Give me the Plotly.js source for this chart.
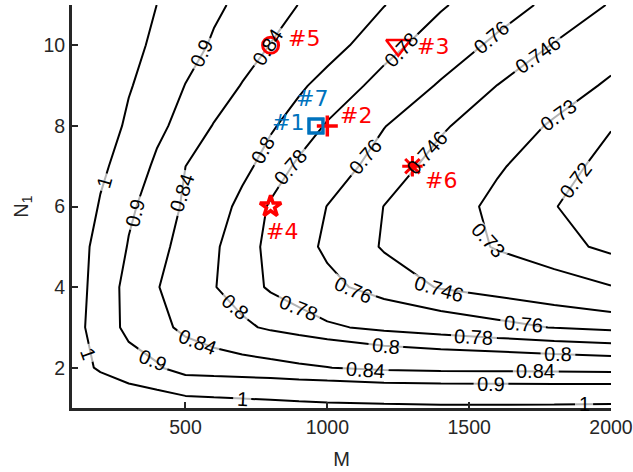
<!DOCTYPE html>
<html>
<head>
<meta charset="utf-8">
<script src="https://cdn.plot.ly/plotly-3.0.1.min.js"></script>
<style>
  html, body { margin: 0; padding: 0; background: #ffffff; }
  #chart { width: 633px; height: 472px; }
</style>
</head>
<body>
<div id="chart"></div>
<script>
// Grid of M (columns) and N1 (rows) on which the response surface is sampled
const mValues = [100, 200, 300, 400, 500, 600, 700, 800, 900, 1000, 1200, 1400, 1600, 1800, 2000];
const n1Values = [1, 2, 3, 4, 5, 6, 7, 8, 9, 10, 11];

// Surface values, one row per N1
const zRows = [
  [1.200, 1.121, 1.095, 1.076, 1.058, 1.050, 1.044, 1.038, 1.031, 1.025, 1.020, 1.015, 1.015, 1.017, 1.020],
  [1.050, 0.985, 0.939, 0.908, 0.865, 0.861, 0.857, 0.852, 0.846, 0.841, 0.829, 0.825, 0.8235, 0.821, 0.818],
  [1.043, 0.950, 0.878, 0.850, 0.8324, 0.8187, 0.8051, 0.7959, 0.7893, 0.7828, 0.7757, 0.7702, 0.7647, 0.7594, 0.7555],
  [1.059, 0.950, 0.875, 0.8417, 0.821, 0.8012, 0.7881, 0.7776, 0.7708, 0.7641, 0.7534, 0.745, 0.7401, 0.7353, 0.7305],
  [1.057, 0.965, 0.8953, 0.8528, 0.8249, 0.8032, 0.7878, 0.7755, 0.7657, 0.7572, 0.7448, 0.7367, 0.729, 0.7234, 0.7178],
  [1.101, 0.990, 0.912, 0.8681, 0.8331, 0.8123, 0.7931, 0.7779, 0.7688, 0.7597, 0.7458, 0.7358, 0.7272, 0.7204, 0.7137],
  [1.160, 1.022, 0.9486, 0.8851, 0.8401, 0.8233, 0.8067, 0.7900, 0.7767, 0.7686, 0.7531, 0.7409, 0.7312, 0.7238, 0.7168],
  [1.200, 1.060, 0.9815, 0.918, 0.8725, 0.8374, 0.8202, 0.8029, 0.7899, 0.7783, 0.7605, 0.7478, 0.7376, 0.7283, 0.7205],
  [1.250, 1.090, 1.008, 0.9525, 0.898, 0.867, 0.8376, 0.8207, 0.8037, 0.7919, 0.7734, 0.7582, 0.7458, 0.7367, 0.7280],
  [1.300, 1.120, 1.030, 0.980, 0.931, 0.8905, 0.864, 0.8387, 0.824, 0.809, 0.7864, 0.770, 0.7563, 0.7452, 0.7360],
  [1.350, 1.160, 1.060, 0.999, 0.956, 0.913, 0.884, 0.861, 0.839, 0.826, 0.8006, 0.782, 0.768, 0.7556, 0.7450]
];

// Contour levels that are drawn
const levels = [0.72, 0.73, 0.746, 0.76, 0.78, 0.8, 0.84, 0.9, 1];

// Inline contour labels: which level, where on the line (M, N1) and the text rotation
const labelLevel = [1, 1, 1, 1,
                    0.9, 0.9, 0.9, 0.9,
                    0.84, 0.84, 0.84, 0.84, 0.84,
                    0.8, 0.8, 0.8, 0.8,
                    0.78, 0.78, 0.78, 0.78,
                    0.76, 0.76, 0.76, 0.76,
                    0.746, 0.746, 0.746,
                    0.73, 0.73,
                    0.72];
const labelM = [215, 158, 700, 1905,
                558, 322, 384, 1577,
                790, 488, 542, 1135, 1735,
                773, 675, 1206, 1813,
                1260, 870, 900, 1517,
                1580, 1133, 1093, 1690,
                1741, 1350, 1395,
                1815, 1567,
                1876];
const labelN1 = [6.6, 2.35, 1.22, 1.09,
                 9.8, 5.84, 2.2, 1.6,
                 9.96, 6.33, 2.63, 1.95, 1.91,
                 7.4, 3.5, 2.53, 2.33,
                 9.88, 6.98, 3.48, 2.77,
                 10.2, 7.23, 3.93, 3.08,
                 9.76, 7.33, 3.95,
                 8.27, 5.17,
                 6.66];
const labelAngle = [-74, 70, 3, 0,
                    -64, -76, 22, 1,
                    -57, -71, 21, 4, 0,
                    -61, 40, 6, 1,
                    -47, -50, 22, 3,
                    -40, -50, 24, 5,
                    -35, -48, 16,
                    -36, 48,
                    -53];

// Design points
const pointNames = ['#1', '#2', '#3', '#4', '#5', '#6', '#7'];
const pointM = [960, 1000, 1250, 800, 800, 1300, 960];
const pointN1 = [8, 8, 10, 6, 10, 7, 8];

// Styling of each design point (symbol, colour, size, stroke) and its label offset in px
const pointStyle = [
  { symbol: 'square-open',        color: '#0072BD', size: 14, width: 3,   ax: 'right', dx: -11, dy: 3 },
  { symbol: 'cross-thin-open',    color: '#FF0000', size: 15, width: 3.5, ax: 'left',  dx: 12,  dy: 10 },
  { symbol: 'triangle-down-open', color: '#FF0000', size: 21, width: 2.5, ax: 'left',  dx: 18,  dy: -1 },
  { symbol: 'star-open',          color: '#FF0000', size: 16, width: 3.5, ax: 'left',  dx: -6,  dy: -25 },
  { symbol: 'circle-open',        color: '#FF0000', size: 16, width: 3,   ax: 'left',  dx: 16,  dy: 7 },
  { symbol: 'asterisk-open',      color: '#FF0000', size: 17, width: 3,   ax: 'left',  dx: 12,  dy: -14 },
  { symbol: 'square-open',        color: '#0072BD', size: 14, width: 3,   ax: 'left',  dx: -21, dy: 27 }
];

const axisColor = '#262626';
const baseFont = 'Liberation Sans, Arial, sans-serif';
const labelFontSize = 20;

// Contour lines, one trace per level
const traces = levels.map(function (lv) {
  return {
    type: 'contour',
    x: mValues,
    y: n1Values,
    z: zRows,
    autocontour: false,
    contours: { start: lv, end: lv, size: 0.001, coloring: 'none', showlabels: false },
    line: { color: '#000000', width: 2, smoothing: 0 },
    showscale: false,
    hoverinfo: 'skip'
  };
});

// White bars that open a gap in each line where its label sits
const labelText = labelLevel.map(function (lv) { return String(lv); });
const gapLength = labelText.map(function (t) {
  let w = 0;
  for (const ch of t) w += (ch === '.') ? 0.278 : 0.556;
  return (w * labelFontSize + 7) / 1.4;
});
traces.push({
  type: 'scatter',
  mode: 'markers',
  x: labelM,
  y: labelN1,
  marker: {
    symbol: 'line-ew',
    size: gapLength,
    angle: labelAngle,
    color: '#ffffff',
    line: { color: '#ffffff', width: 16 }
  },
  hoverinfo: 'skip',
  showlegend: false
});

// Design point markers
pointNames.forEach(function (name, i) {
  const st = pointStyle[i];
  traces.push({
    type: 'scatter',
    mode: 'markers',
    x: [pointM[i]],
    y: [pointN1[i]],
    name: name,
    marker: {
      symbol: st.symbol,
      size: st.size,
      color: st.color,
      line: { color: st.color, width: st.width }
    },
    hoverinfo: 'skip',
    showlegend: false,
    cliponaxis: false
  });
});

// Contour level labels
const annotations = labelLevel.map(function (lv, i) {
  return {
    x: labelM[i], y: labelN1[i], xref: 'x', yref: 'y',
    text: labelText[i], showarrow: false,
    xanchor: 'center', yanchor: 'middle',
    textangle: labelAngle[i],
    borderpad: 0,
    font: { family: baseFont, size: labelFontSize, color: '#000000' }
  };
});

// Design point names
pointNames.forEach(function (name, i) {
  const st = pointStyle[i];
  annotations.push({
    x: pointM[i], y: pointN1[i], xref: 'x', yref: 'y',
    text: name, showarrow: false,
    xanchor: st.ax, yanchor: 'middle',
    xshift: st.dx, yshift: st.dy,
    borderpad: 0,
    font: { family: 'DejaVu Sans, sans-serif', size: 22, color: st.color }
  });
});

const layout = {
  width: 633,
  height: 472,
  margin: { l: 72, r: 22, t: 5, b: 64 },
  paper_bgcolor: '#ffffff',
  plot_bgcolor: '#ffffff',
  showlegend: false,
  xaxis: {
    range: [100, 2000],
    tickvals: [500, 1000, 1500, 2000],
    ticktext: ['500', '1000', '1500', '2000'],
    ticks: 'inside', ticklen: 6, tickwidth: 2, tickcolor: axisColor,
    showline: true, linecolor: axisColor, linewidth: 3,
    showgrid: false, zeroline: false,
    tickfont: { family: baseFont, size: 19.5, color: axisColor },
    title: { text: 'M', font: { family: baseFont, size: 20, color: axisColor }, standoff: 15 }
  },
  yaxis: {
    range: [1, 11],
    tickvals: [2, 4, 6, 8, 10],
    ticktext: ['2', '4', '6', '8', '10'],
    ticks: 'inside', ticklen: 6, tickwidth: 2, tickcolor: axisColor,
    showline: true, linecolor: axisColor, linewidth: 3,
    showgrid: false, zeroline: false,
    tickfont: { family: baseFont, size: 19.5, color: axisColor },
    title: { text: 'N<sub>1</sub>', font: { family: baseFont, size: 20, color: axisColor }, standoff: 10 }
  },
  annotations: annotations
};

Plotly.newPlot('chart', traces, layout, { displayModeBar: false, staticPlot: true });
</script>
</body>
</html>
